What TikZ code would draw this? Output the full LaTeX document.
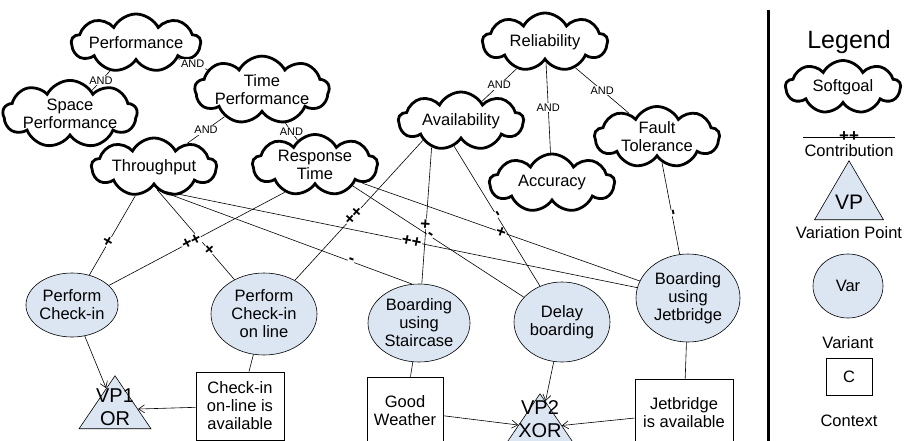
\documentclass[tikz,border=0pt]{standalone}
\usepackage{fontspec}
\setmainfont{Liberation Sans}
\usetikzlibrary{shapes.symbols, shapes.geometric, arrows.meta, positioning}
\definecolor{varfill}{RGB}{220,230,242}

\tikzset{
  softgoal/.style={cloud, cloud puffs=9, cloud puff arc=125, cloud ignores aspect,
    draw, line width=2.8pt, minimum width=125pt, minimum height=58pt, inner sep=0pt,
    align=center, font=\fontsize{16.5}{18}\selectfont},
  variant/.style={ellipse, draw, line width=0.6pt, fill=varfill, inner sep=0pt,
    align=center, font=\fontsize{16.5}{18}\selectfont},
  vptri/.style={isosceles triangle, isosceles triangle stretches, shape border rotate=90,
    draw, fill=varfill, line width=0.6pt, inner sep=0pt, anchor=apex},
  vptext/.style={align=center, font=\fontsize{20}{23}\selectfont, inner sep=0pt},
  ctxbox/.style={rectangle, draw, line width=0.7pt, align=center, minimum height=68pt,
    font=\fontsize{16.5}{18}\selectfont},
  andlbl/.style={fill=white, inner sep=1pt, font=\fontsize{11}{11}\selectfont},
  clbl/.style={sloped, fill=white, inner sep=0.5pt, font=\bfseries\fontsize{17}{17}\selectfont},
  link/.style={line width=0.6pt},
  vparrow/.style={line width=0.6pt, -{Straight Barb[length=6pt,width=8pt]}},
  legtext/.style={font=\fontsize{16.5}{18}\selectfont, inner sep=0pt}
}

\begin{document}
\begin{tikzpicture}[x=1pt, y=-1pt]
  \useasboundingbox (0,0) rectangle (907,441);
  \clip (0,0) rectangle (907,441);

  % softgoals
  \node[softgoal] (perf) at (136,43) {Performance};
  \node[softgoal] (space) at (70,114) {Space\\Performance};
  \node[softgoal] (timep) at (262,90) {Time\\Performance};
  \node[softgoal] (thr) at (154,167) {Throughput};
  \node[softgoal] (resp) at (315,165) {Response\\Time};
  \node[softgoal] (avail) at (461,121) {Availability};
  \node[softgoal] (rel) at (545,42) {Reliability};
  \node[softgoal] (acc) at (552,183) {Accuracy};
  \node[softgoal] (fault) at (657,137) {Fault\\Tolerance};

  % variants
  \node[variant, minimum width=92pt, minimum height=64pt] (pci) at (72,305) {Perform\\Check-in};
  \node[variant, minimum width=106pt, minimum height=82pt] (pco) at (264,314) {Perform\\Check-in\\on line};
  \node[variant, minimum width=102pt, minimum height=78pt] (stair) at (419,323) {Boarding\\using\\Staircase};
  \node[variant, minimum width=96pt, minimum height=80pt] (delay) at (562,322) {Delay\\boarding};
  \node[variant, minimum width=104pt, minimum height=88pt] (jet) at (688,298) {Boarding\\using\\Jetbridge};

  % variation points
  \node[vptri, minimum width=72pt, minimum height=53pt] (vp1) at (115,375) {};
  \node[vptext] (vp1lbl) at (115,407) {VP1\\OR};
  \node[vptri, minimum width=72pt, minimum height=53pt] (vp2) at (540,393) {};
  \node[vptext] (vp2lbl) at (540,419) {VP2\\XOR};

  % contexts
  \node[ctxbox, minimum width=88pt] (cbox) at (240,406) {Check-in\\on-line is\\available};
  \node[ctxbox, minimum width=76pt] (gw) at (405,411) {Good\\Weather};
  \node[ctxbox, minimum width=98pt] (jbox) at (684,413) {Jetbridge\\is available};

  % AND decompositions
  \draw[link] (perf) -- node[andlbl]{AND} (space);
  \draw[link] (perf) -- node[andlbl]{AND} (timep);
  \draw[link] (timep) -- node[andlbl]{AND} (thr);
  \draw[link] (timep) -- node[andlbl]{AND} (resp);
  \draw[link] (rel) -- node[andlbl]{AND} (avail);
  \draw[link] (rel) -- node[andlbl]{AND} (acc);
  \draw[link] (rel) -- node[andlbl]{AND} (fault);

  % contributions
  \draw[link] (thr.237) -- node[clbl, pos=0.58]{+} (pci);
  \draw[link] (thr.-82) -- node[clbl, pos=0.67]{+} (pco);
  \draw[link] (thr.-82) -- node[clbl, pos=0.76]{-} (stair.100);
  \draw[link] (thr.-82) -- node[clbl, pos=0.53]{++} (jet);
  \draw[link] (resp.222) -- node[clbl, pos=0.53]{++} (pci);
  \draw[link] (resp.-29) -- node[clbl, pos=0.45]{-} (delay);
  \draw[link] (resp.-21) -- node[clbl, pos=0.50]{+} (jet);
  \draw[link] (avail.207) -- node[clbl, pos=0.54]{++} (pco);
  \draw[link] (avail.222) -- node[clbl, pos=0.56]{+} (stair);
  \draw[link] (avail.255) -- node[clbl, pos=0.49]{-} (delay);
  \draw[link] (fault.-79) -- node[clbl, pos=0.55]{-} (jet);

  % variants to variation points and contexts
  \draw[vparrow] (pci) -- (vp1);
  \draw[vparrow] (cbox) -- (vp1);
  \draw[link] (pco) -- (cbox);
  \draw[link] (stair) -- (gw);
  \draw[link] (jet) -- (jbox);
  \draw[vparrow] (delay) -- (vp2);
  \draw[vparrow] (gw) -- (vp2);
  \draw[vparrow] (jbox) -- (vp2);

  % legend
  \draw[line width=3pt] (768,10) -- (768,441);
  \node[font=\fontsize{25}{25}\selectfont] (legtitle) at (849,42) {Legend};
  \node[softgoal, minimum width=115pt, minimum height=53pt] (legsg) at (843,87) {Softgoal};
  \coordinate (legl) at (803,137);
  \coordinate (legr) at (895,137);
  \draw[link] (legl) -- node[clbl, fill=none]{++} (legr);
  \node[legtext] (legcontrib) at (849,151) {Contribution};
  \node[vptri, minimum width=69pt, minimum height=59pt] (legvp) at (849,160) {};
  \node[vptext, font=\fontsize{21}{21}\selectfont] (legvplbl) at (849,202) {VP};
  \node[legtext] (legvptext) at (849,233) {Variation Point};
  \node[variant, minimum width=70pt, minimum height=64pt] (legvar) at (848,286) {Var};
  \node[legtext] (legvartext) at (848,343) {Variant};
  \node[ctxbox, minimum width=46pt, minimum height=37pt] (legc) at (849,377) {C};
  \node[legtext] (legctext) at (849,421) {Context};
\end{tikzpicture}
\end{document}
